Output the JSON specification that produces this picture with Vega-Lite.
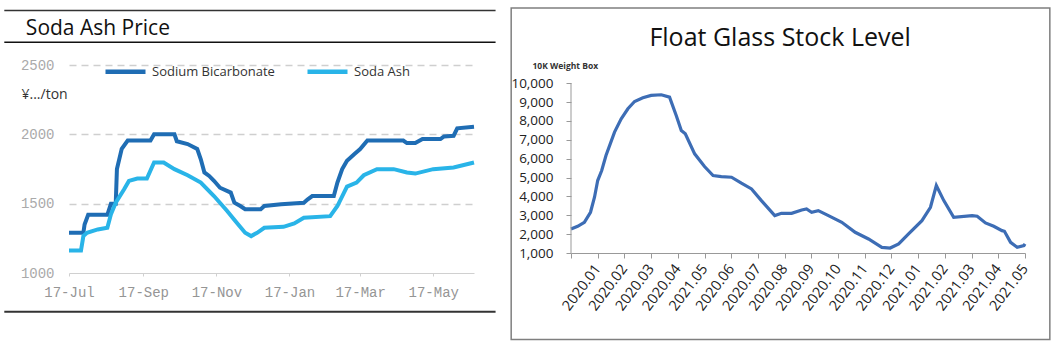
{
  "$schema": "https://vega.github.io/schema/vega-lite/v6.json",
  "padding": {"left": 3, "top": 7, "right": 0, "bottom": 0},
  "background": "white",
  "config": {"view": {"stroke": null}, "font": "Open Sans", "axis": {"labelOverlap": false, "labelFlush": false}},
  "columns": 2,
  "align": "none",
  "spacing": 13,
  "concat": [
    {
      "width": 405,
      "height": 208,
      "layer": [
        {
          "data": {"values": [
            {"date": "2017-07-17", "series": "Sodium Bicarbonate", "price": 1290},
            {"date": "2017-07-29", "series": "Sodium Bicarbonate", "price": 1290},
            {"date": "2017-07-30", "series": "Sodium Bicarbonate", "price": 1350},
            {"date": "2017-08-02", "series": "Sodium Bicarbonate", "price": 1420},
            {"date": "2017-08-18", "series": "Sodium Bicarbonate", "price": 1420},
            {"date": "2017-08-21", "series": "Sodium Bicarbonate", "price": 1500},
            {"date": "2017-08-25", "series": "Sodium Bicarbonate", "price": 1500},
            {"date": "2017-08-26", "series": "Sodium Bicarbonate", "price": 1750},
            {"date": "2017-08-30", "series": "Sodium Bicarbonate", "price": 1895},
            {"date": "2017-09-04", "series": "Sodium Bicarbonate", "price": 1955},
            {"date": "2017-09-23", "series": "Sodium Bicarbonate", "price": 1955},
            {"date": "2017-09-26", "series": "Sodium Bicarbonate", "price": 2000},
            {"date": "2017-10-13", "series": "Sodium Bicarbonate", "price": 2000},
            {"date": "2017-10-15", "series": "Sodium Bicarbonate", "price": 1950},
            {"date": "2017-10-24", "series": "Sodium Bicarbonate", "price": 1930},
            {"date": "2017-11-01", "series": "Sodium Bicarbonate", "price": 1895},
            {"date": "2017-11-04", "series": "Sodium Bicarbonate", "price": 1820},
            {"date": "2017-11-07", "series": "Sodium Bicarbonate", "price": 1725},
            {"date": "2017-11-11", "series": "Sodium Bicarbonate", "price": 1700},
            {"date": "2017-11-15", "series": "Sodium Bicarbonate", "price": 1665},
            {"date": "2017-11-20", "series": "Sodium Bicarbonate", "price": 1615},
            {"date": "2017-11-29", "series": "Sodium Bicarbonate", "price": 1580},
            {"date": "2017-12-02", "series": "Sodium Bicarbonate", "price": 1507},
            {"date": "2017-12-07", "series": "Sodium Bicarbonate", "price": 1483},
            {"date": "2017-12-11", "series": "Sodium Bicarbonate", "price": 1460},
            {"date": "2017-12-24", "series": "Sodium Bicarbonate", "price": 1460},
            {"date": "2017-12-27", "series": "Sodium Bicarbonate", "price": 1483},
            {"date": "2018-01-10", "series": "Sodium Bicarbonate", "price": 1495},
            {"date": "2018-01-29", "series": "Sodium Bicarbonate", "price": 1507},
            {"date": "2018-02-01", "series": "Sodium Bicarbonate", "price": 1530},
            {"date": "2018-02-05", "series": "Sodium Bicarbonate", "price": 1555},
            {"date": "2018-02-23", "series": "Sodium Bicarbonate", "price": 1555},
            {"date": "2018-02-26", "series": "Sodium Bicarbonate", "price": 1652},
            {"date": "2018-03-02", "series": "Sodium Bicarbonate", "price": 1749},
            {"date": "2018-03-06", "series": "Sodium Bicarbonate", "price": 1810},
            {"date": "2018-03-12", "series": "Sodium Bicarbonate", "price": 1857},
            {"date": "2018-03-17", "series": "Sodium Bicarbonate", "price": 1894},
            {"date": "2018-03-23", "series": "Sodium Bicarbonate", "price": 1955},
            {"date": "2018-04-22", "series": "Sodium Bicarbonate", "price": 1955},
            {"date": "2018-04-25", "series": "Sodium Bicarbonate", "price": 1937},
            {"date": "2018-05-02", "series": "Sodium Bicarbonate", "price": 1937},
            {"date": "2018-05-08", "series": "Sodium Bicarbonate", "price": 1966},
            {"date": "2018-05-23", "series": "Sodium Bicarbonate", "price": 1966},
            {"date": "2018-05-26", "series": "Sodium Bicarbonate", "price": 1985},
            {"date": "2018-06-03", "series": "Sodium Bicarbonate", "price": 1990},
            {"date": "2018-06-06", "series": "Sodium Bicarbonate", "price": 2043},
            {"date": "2018-06-20", "series": "Sodium Bicarbonate", "price": 2055},
            {"date": "2017-07-17", "series": "Soda Ash", "price": 1162},
            {"date": "2017-07-27", "series": "Soda Ash", "price": 1162},
            {"date": "2017-07-29", "series": "Soda Ash", "price": 1266},
            {"date": "2017-08-01", "series": "Soda Ash", "price": 1290},
            {"date": "2017-08-10", "series": "Soda Ash", "price": 1314},
            {"date": "2017-08-18", "series": "Soda Ash", "price": 1326},
            {"date": "2017-08-21", "series": "Soda Ash", "price": 1423},
            {"date": "2017-08-25", "series": "Soda Ash", "price": 1507},
            {"date": "2017-09-01", "series": "Soda Ash", "price": 1604},
            {"date": "2017-09-05", "series": "Soda Ash", "price": 1664},
            {"date": "2017-09-12", "series": "Soda Ash", "price": 1681},
            {"date": "2017-09-20", "series": "Soda Ash", "price": 1681},
            {"date": "2017-09-26", "series": "Soda Ash", "price": 1797},
            {"date": "2017-10-04", "series": "Soda Ash", "price": 1797},
            {"date": "2017-10-13", "series": "Soda Ash", "price": 1749},
            {"date": "2017-10-24", "series": "Soda Ash", "price": 1705},
            {"date": "2017-11-04", "series": "Soda Ash", "price": 1652},
            {"date": "2017-11-15", "series": "Soda Ash", "price": 1555},
            {"date": "2017-11-26", "series": "Soda Ash", "price": 1447},
            {"date": "2017-12-04", "series": "Soda Ash", "price": 1362},
            {"date": "2017-12-11", "series": "Soda Ash", "price": 1290},
            {"date": "2017-12-16", "series": "Soda Ash", "price": 1266},
            {"date": "2017-12-21", "series": "Soda Ash", "price": 1290},
            {"date": "2017-12-27", "series": "Soda Ash", "price": 1326},
            {"date": "2018-01-12", "series": "Soda Ash", "price": 1333},
            {"date": "2018-01-21", "series": "Soda Ash", "price": 1357},
            {"date": "2018-01-29", "series": "Soda Ash", "price": 1398},
            {"date": "2018-02-20", "series": "Soda Ash", "price": 1410},
            {"date": "2018-02-26", "series": "Soda Ash", "price": 1483},
            {"date": "2018-03-06", "series": "Soda Ash", "price": 1623},
            {"date": "2018-03-14", "series": "Soda Ash", "price": 1652},
            {"date": "2018-03-20", "series": "Soda Ash", "price": 1705},
            {"date": "2018-03-31", "series": "Soda Ash", "price": 1749},
            {"date": "2018-04-14", "series": "Soda Ash", "price": 1749},
            {"date": "2018-04-25", "series": "Soda Ash", "price": 1725},
            {"date": "2018-05-02", "series": "Soda Ash", "price": 1717},
            {"date": "2018-05-17", "series": "Soda Ash", "price": 1749},
            {"date": "2018-06-03", "series": "Soda Ash", "price": 1761},
            {"date": "2018-06-20", "series": "Soda Ash", "price": 1797}
          ]},
          "mark": {"type": "line", "strokeWidth": 4},
          "encoding": {
            "x": {
              "field": "date", "type": "temporal",
              "scale": {"type": "utc", "domain": [{"year": 2017, "month": 7, "date": 17, "utc": true}, {"year": 2018, "month": 6, "date": 20, "utc": true}], "nice": false},
              "axis": {
                "title": null,
                "values": [
                  {"year": 2017, "month": 7, "date": 17, "utc": true},
                  {"year": 2017, "month": 9, "date": 17, "utc": true},
                  {"year": 2017, "month": 11, "date": 17, "utc": true},
                  {"year": 2018, "month": 1, "date": 17, "utc": true},
                  {"year": 2018, "month": 3, "date": 17, "utc": true},
                  {"year": 2018, "month": 5, "date": 17, "utc": true}
                ],
                "tickCount": 20,
                "format": "%d-%b",
                "labelFont": "Liberation Mono", "labelFontSize": 14, "labelColor": "#959595",
                "labelFlush": false, "labelOverlap": false,
                "grid": false, "domainColor": "#d0d0d0", "tickColor": "#d0d0d0", "tickSize": 3, "labelPadding": 9
              }
            },
            "y": {
              "field": "price", "type": "quantitative",
              "scale": {"domain": [1000, 2500], "nice": false, "zero": false},
              "axis": {
                "title": "¥.../ton", "titleAngle": 0, "titleAlign": "left", "titleBaseline": "alphabetic",
                "titleX": -48, "titleY": 33, "titleFont": "Open Sans", "titleFontSize": 14, "titleFontWeight": "normal", "titleColor": "#333",
                "values": [1000, 1500, 2000, 2500],
                "tickCount": 20,
                "format": "d",
                "labelFont": "Liberation Mono", "labelFontSize": 14, "labelColor": "#aaa",
                "labelFlush": false, "labelOverlap": false,
                "ticks": false, "domain": false, "labelPadding": 15,
                "grid": true, "gridDash": [7, 5], "gridColor": "#cfcfcf", "gridWidth": 1.5,
                "gridOpacity": {"condition": {"test": "datum.value == 1000", "value": 0}, "value": 1}
              }
            },
            "color": {
              "field": "series", "type": "nominal",
              "scale": {"domain": ["Sodium Bicarbonate", "Soda Ash"], "range": ["#1f6db4", "#29b4e8"]},
              "legend": {
                "orient": "none", "legendX": 34, "legendY": -16, "direction": "horizontal", "title": null,
                "symbolType": "stroke", "symbolSize": 1600, "symbolStrokeWidth": 4.5,
                "labelFont": "Open Sans", "labelFontSize": 13, "labelColor": "#333",
                "columnPadding": 23, "labelOffset": 4
              }
            }
          }
        },
        {
          "data": {"values": [{}]},
          "mark": {"type": "text", "text": "Soda Ash Price", "align": "left", "baseline": "alphabetic", "font": "Open Sans", "fontSize": 21, "color": "#111"},
          "encoding": {
            "x": {"datum": {"year": 2017, "month": 6, "date": 11, "utc": true}, "type": "temporal", "scale": {"type": "utc", "domain": [{"year": 2017, "month": 7, "date": 17, "utc": true}, {"year": 2018, "month": 6, "date": 20, "utc": true}], "nice": false}},
            "y": {"datum": 2716, "type": "quantitative", "scale": {"domain": [1000, 2500], "nice": false, "zero": false}}
          }
        },
        {
          "data": {"values": [{}]},
          "mark": {"type": "rule", "stroke": "#333", "strokeWidth": 1.5},
          "encoding": {
            "x": {"datum": {"year": 2017, "month": 5, "date": 24, "utc": true}, "type": "temporal", "scale": {"type": "utc", "domain": [{"year": 2017, "month": 7, "date": 17, "utc": true}, {"year": 2018, "month": 6, "date": 20, "utc": true}], "nice": false}},
            "x2": {"datum": {"year": 2018, "month": 7, "date": 8, "utc": true}},
            "y": {"datum": 2893, "type": "quantitative", "scale": {"domain": [1000, 2500], "nice": false, "zero": false}}
          }
        },
        {
          "data": {"values": [{}]},
          "mark": {"type": "rule", "stroke": "#111", "strokeWidth": 1.5},
          "encoding": {
            "x": {"datum": {"year": 2017, "month": 5, "date": 24, "utc": true}, "type": "temporal", "scale": {"type": "utc", "domain": [{"year": 2017, "month": 7, "date": 17, "utc": true}, {"year": 2018, "month": 6, "date": 20, "utc": true}], "nice": false}},
            "x2": {"datum": {"year": 2018, "month": 7, "date": 8, "utc": true}},
            "y": {"datum": 2664, "type": "quantitative", "scale": {"domain": [1000, 2500], "nice": false, "zero": false}}
          }
        },
        {
          "data": {"values": [{}]},
          "mark": {"type": "rule", "stroke": "#333", "strokeWidth": 2},
          "encoding": {
            "x": {"datum": {"year": 2017, "month": 5, "date": 24, "utc": true}, "type": "temporal", "scale": {"type": "utc", "domain": [{"year": 2017, "month": 7, "date": 17, "utc": true}, {"year": 2018, "month": 6, "date": 20, "utc": true}], "nice": false}},
            "x2": {"datum": {"year": 2018, "month": 7, "date": 8, "utc": true}},
            "y": {"datum": 721, "type": "quantitative", "scale": {"domain": [1000, 2500], "nice": false, "zero": false}}
          }
        }
      ]
    },
    {
      "width": 454,
      "height": 188,
      "layer": [
        {
          "data": {"values": [
            {"period": 0, "stock": 2274}, {"period": 0.25, "stock": 2415}, {"period": 0.5, "stock": 2628},
            {"period": 0.73, "stock": 3158}, {"period": 0.88, "stock": 3954}, {"period": 1.0, "stock": 4839},
            {"period": 1.15, "stock": 5369}, {"period": 1.31, "stock": 6165}, {"period": 1.63, "stock": 7404},
            {"period": 1.88, "stock": 8111}, {"period": 2.13, "stock": 8642}, {"period": 2.38, "stock": 9031},
            {"period": 2.69, "stock": 9226}, {"period": 3.0, "stock": 9350}, {"period": 3.38, "stock": 9385},
            {"period": 3.69, "stock": 9261}, {"period": 3.94, "stock": 8288}, {"period": 4.13, "stock": 7492},
            {"period": 4.28, "stock": 7315}, {"period": 4.63, "stock": 6254}, {"period": 5.0, "stock": 5582},
            {"period": 5.32, "stock": 5104}, {"period": 5.63, "stock": 5051}, {"period": 6.01, "stock": 5016},
            {"period": 6.38, "stock": 4697}, {"period": 6.76, "stock": 4396}, {"period": 7.13, "stock": 3777},
            {"period": 7.63, "stock": 2981}, {"period": 7.88, "stock": 3105}, {"period": 8.26, "stock": 3105},
            {"period": 8.64, "stock": 3282}, {"period": 8.82, "stock": 3335}, {"period": 9.01, "stock": 3158},
            {"period": 9.26, "stock": 3247}, {"period": 9.64, "stock": 2981}, {"period": 10.14, "stock": 2628},
            {"period": 10.64, "stock": 2097}, {"period": 11.14, "stock": 1743}, {"period": 11.64, "stock": 1301},
            {"period": 11.95, "stock": 1265}, {"period": 12.27, "stock": 1478}, {"period": 12.64, "stock": 2008},
            {"period": 13.14, "stock": 2716}, {"period": 13.46, "stock": 3423}, {"period": 13.68, "stock": 4573},
            {"period": 13.96, "stock": 3777}, {"period": 14.33, "stock": 2893}, {"period": 15.02, "stock": 2981},
            {"period": 15.21, "stock": 2946}, {"period": 15.52, "stock": 2592}, {"period": 15.83, "stock": 2415},
            {"period": 16.14, "stock": 2185}, {"period": 16.23, "stock": 2150}, {"period": 16.46, "stock": 1566},
            {"period": 16.71, "stock": 1301}, {"period": 16.96, "stock": 1389}, {"period": 17.0, "stock": 1480}
          ]},
          "mark": {"type": "line", "color": "#3d6db5", "strokeWidth": 3.2},
          "encoding": {
            "x": {
              "field": "period", "type": "quantitative",
              "scale": {"domain": [0, 17], "nice": false, "zero": false},
              "axis": {
                "title": null,
                "values": [0, 1, 2, 3, 4, 5, 6, 7, 8, 9, 10, 11, 12, 13, 14, 15, 16, 17],
                "tickCount": 40,
                "labelExpr": "datum.value == 0 ? '' : ['2020.01','2020.02','2020.03','2020.04','2021.05','2020.06','2020.07','2020.08','2020.09','2020.10','2020.11','2020.12','2021.01','2021.02','2021.03','2021.04','2021.05'][datum.value - 1]",
                "labelAngle": -53, "labelAlign": "right", "labelBaseline": "middle",
                "labelFont": "Open Sans", "labelFontSize": 14.5, "labelColor": "#222",
                "labelFlush": false, "labelOverlap": false,
                "grid": false, "domainColor": "#999", "tickColor": "#999", "tickSize": 5, "labelPadding": 8
              }
            },
            "y": {
              "field": "stock", "type": "quantitative",
              "scale": {"domain": [1000, 10963], "nice": false, "zero": false},
              "axis": {
                "title": "10K Weight Box", "titleAngle": 0, "titleAlign": "left", "titleBaseline": "alphabetic",
                "titleX": -39, "titleY": 3, "titleFont": "Open Sans", "titleFontSize": 8.5, "titleFontWeight": "bold", "titleColor": "#333",
                "values": [1000, 2000, 3000, 4000, 5000, 6000, 7000, 8000, 9000, 10000],
                "tickCount": 40,
                "format": ",d",
                "labelFont": "Open Sans", "labelFontSize": 13.5, "labelColor": "#222",
                "labelFlush": false, "labelOverlap": false,
                "grid": false, "domain": false, "tickColor": "#999", "tickSize": 5, "labelPadding": 13
              }
            }
          }
        },
        {
          "data": {"values": [{}]},
          "mark": {"type": "rule", "stroke": "#999", "strokeWidth": 1},
          "encoding": {
            "x": {"datum": 0, "type": "quantitative", "scale": {"domain": [0, 17], "nice": false, "zero": false}},
            "y": {"datum": 1000, "type": "quantitative", "scale": {"domain": [1000, 10963], "nice": false, "zero": false}},
            "y2": {"datum": 10000}
          }
        },
        {
          "data": {"values": [{}]},
          "mark": {"type": "text", "text": "Float Glass Stock Level", "align": "center", "baseline": "alphabetic", "font": "Open Sans", "fontSize": 25, "color": "#111"},
          "encoding": {
            "x": {"datum": 7.83, "type": "quantitative", "scale": {"domain": [0, 17], "nice": false, "zero": false}},
            "y": {"datum": 11996, "type": "quantitative", "scale": {"domain": [1000, 10963], "nice": false, "zero": false}}
          }
        },
        {
          "data": {"values": [{}]},
          "mark": {"type": "rect", "fillOpacity": 0, "stroke": "#7f7f7f", "strokeWidth": 1.5},
          "encoding": {
            "x": {"datum": -2.24, "type": "quantitative", "scale": {"domain": [0, 17], "nice": false, "zero": false}},
            "x2": {"datum": 17.93},
            "y": {"datum": 13983, "type": "quantitative", "scale": {"domain": [1000, 10963], "nice": false, "zero": false}},
            "y2": {"datum": -3584}
          }
        }
      ]
    }
  ]
}
